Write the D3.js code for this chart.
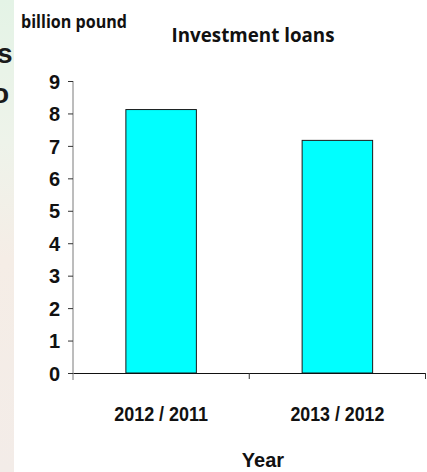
<!DOCTYPE html>
<html>
<head>
<meta charset="utf-8">
<script src="https://cdn.jsdelivr.net/npm/d3@7"></script>
<style>
  body { margin: 0; background: #fff; }
  text { font-family: "Liberation Sans", Arial, sans-serif; }
</style>
</head>
<body>
<div id="chart"></div>
<script>
var categories = ["2012 / 2011", "2013 / 2012"];
var loans = [8.12, 7.17];
var yTicks = [0, 1, 2, 3, 4, 5, 6, 7, 8, 9];

var width = 427,
    height = 472;

var svg = d3.select("#chart")
    .append("svg")
    .attr("width", width)
    .attr("height", height);

// strip of the slide behind the chart, on the left edge
var grad = svg.append("defs").append("linearGradient")
    .attr("id", "strip")
    .attr("x1", 0).attr("y1", 0).attr("x2", 0).attr("y2", 1);
grad.append("stop").attr("offset", "0%").attr("stop-color", "#e4f3e6");
grad.append("stop").attr("offset", "30%").attr("stop-color", "#eef3ea");
grad.append("stop").attr("offset", "55%").attr("stop-color", "#f5ede6");
grad.append("stop").attr("offset", "100%").attr("stop-color", "#f3ece8");
svg.append("rect")
    .attr("x", 0).attr("y", 0)
    .attr("width", 14).attr("height", height)
    .attr("fill", "url(#strip)");
svg.append("text").attr("x", -3).attr("y", 63)
    .style("font-size", "28px").style("font-weight", "bold").attr("fill", "#1a1a1a")
    .text("s");
svg.append("text").attr("x", -8).attr("y", 103)
    .style("font-size", "28px").style("font-weight", "bold").attr("fill", "#1a1a1a")
    .text("o");
svg.append("rect")
    .attr("x", 14).attr("y", 0)
    .attr("width", width - 14).attr("height", height)
    .attr("fill", "#fff");

// scales
var x = d3.scaleBand()
    .domain(categories)
    .range([73, 425.5]);

var y = d3.scaleLinear()
    .domain([0, 9])
    .range([373, 81]);

// bars
svg.selectAll(".bar")
    .data(loans)
    .enter()
    .append("rect")
    .attr("class", "bar")
    .attr("x", function(d, i) { return x(categories[i]) + x.bandwidth() * 0.3; })
    .attr("width", x.bandwidth() * 0.4)
    .attr("y", function(d) { return y(d); })
    .attr("height", function(d) { return y(0) - y(d); })
    .attr("fill", "#00ffff")
    .attr("stroke", "#1a1a1a")
    .attr("stroke-width", 1);

// y axis
var yAxis = svg.append("g")
    .attr("transform", "translate(73,0)")
    .call(d3.axisLeft(y).tickValues(yTicks).tickSize(5).tickPadding(8).tickSizeOuter(0));
yAxis.select(".domain").attr("stroke", "#7a7a7a").attr("d", "M0,81V380");
yAxis.selectAll(".tick line").attr("stroke", "#333");
yAxis.selectAll(".tick text")
    .style("font-size", "20px").style("font-weight", "bold").attr("fill", "#111")
    .attr("dy", "0.36em");

// x axis: labels at band centres, ticks at band edges
var xAxis = svg.append("g")
    .attr("transform", "translate(0,373)")
    .call(d3.axisBottom(x).tickSize(0).tickPadding(33).tickSizeOuter(0));
xAxis.select(".domain").attr("stroke", "#111");
xAxis.selectAll(".tick text")
    .style("font-size", "21px").style("font-weight", "bold").attr("fill", "#111")
    .attr("textLength", 94).attr("lengthAdjust", "spacingAndGlyphs");

var edges = categories.map(function(c) { return x(c); }).concat([x.range()[1]]);
xAxis.selectAll(".edge")
    .data(edges.slice(1))
    .enter()
    .append("line")
    .attr("class", "edge")
    .attr("x1", function(d) { return d; })
    .attr("x2", function(d) { return d; })
    .attr("y1", 0).attr("y2", 6)
    .attr("stroke", "#333");

// titles
svg.append("text")
    .attr("x", 253).attr("y", 42)
    .attr("text-anchor", "middle")
    .style("font-family", "'Open Sans', sans-serif")
    .style("font-size", "19px").style("font-weight", "bold").attr("fill", "#111")
    .attr("textLength", 163).attr("lengthAdjust", "spacingAndGlyphs")
    .text("Investment loans");

svg.append("text")
    .attr("x", 21).attr("y", 28)
    .style("font-family", "'Open Sans', sans-serif")
    .style("font-size", "17px").style("font-weight", "bold").attr("fill", "#111")
    .attr("textLength", 106).attr("lengthAdjust", "spacingAndGlyphs")
    .text("billion pound");

svg.append("text")
    .attr("x", 263).attr("y", 467)
    .attr("text-anchor", "middle")
    .style("font-size", "20px").style("font-weight", "bold").attr("fill", "#111")
    .text("Year");
</script>
</body>
</html>
